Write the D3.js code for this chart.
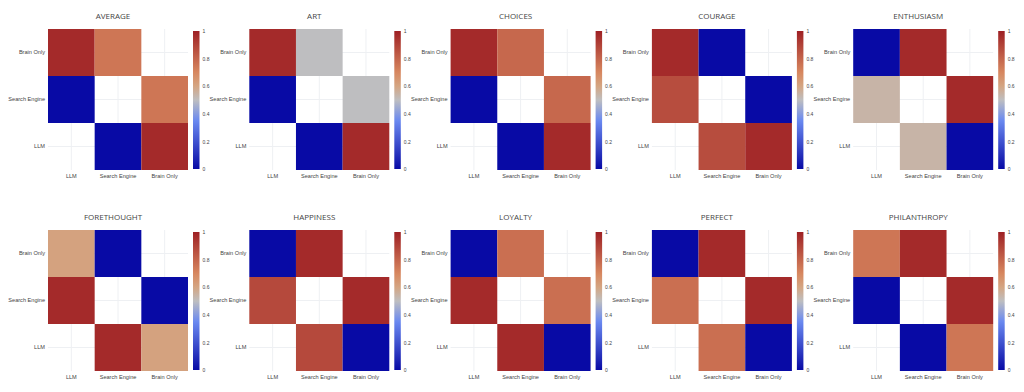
<!DOCTYPE html>
<html>
<head>
<meta charset="UTF-8">
<script src="https://d3js.org/d3.v7.min.js"></script>
<style>
  body { margin: 0; background: #fff; }
  svg { display: block; font-family: "Open Sans", Arial, sans-serif; }
  .tick text { fill: #444; }
</style>
</head>
<body>
<svg width="1024" height="392"></svg>
<script>
// categories and per-panel values (matrix is symmetric, diagonal empty)
const categories = ["LLM", "Search Engine", "Brain Only"];
const panelTitles = ["AVERAGE", "ART", "CHOICES", "COURAGE", "ENTHUSIASM",
                     "FORETHOUGHT", "HAPPINESS", "LOYALTY", "PERFECT", "PHILANTHROPY"];
const llmVsSearch   = [0,    0,    0,    0.87, 0.54, 0.97, 0.88, 0.97, 0.77, 0];
const llmVsBrain    = [0.97, 0.97, 0.97, 0.97, 0,    0.61, 0,    0,    0,    0.75];
const searchVsBrain = [0.75, 0.5,  0.79, 0,    0.97, 0,    0.97, 0.77, 0.97, 0.97];
const colorTicks = [0, 0.2, 0.4, 0.6, 0.8, 1];

// blue - grey - red colour stops (close to plotly RdBu reversed, as it shows here)
const rdbuStops = [0, 0.35, 0.5, 0.6, 0.7, 1];
const rdbuColors = ["rgb(8,10,165)", "rgb(106,137,240)", "rgb(190,190,192)",
                    "rgb(212,165,130)", "rgb(215,135,95)", "rgb(158,32,36)"];
const color = d3.scaleLinear().domain(rdbuStops).range(rdbuColors).interpolate(d3.interpolateRgb);

const svg = d3.select("svg");
const plotW = 140, plotH = 141;

const defs = svg.append("defs");
const grad = defs.append("linearGradient").attr("id", "cbar")
  .attr("x1", 0).attr("y1", 1).attr("x2", 0).attr("y2", 0);
grad.selectAll("stop").data(rdbuStops).join("stop")
  .attr("offset", d => d)
  .attr("stop-color", (d, i) => rdbuColors[i]);

function cellValue(p, a, b) {
  if (a === b) return null;
  const key = [a, b].sort().join("|");
  if (key === ["LLM", "Search Engine"].sort().join("|")) return llmVsSearch[p];
  if (key === ["Brain Only", "LLM"].sort().join("|")) return llmVsBrain[p];
  return searchVsBrain[p];
}

panelTitles.forEach((title, p) => {
  const col = p % 5, row = Math.floor(p / 5);
  const left = 48 + col * 201.3;
  const top = 29 + row * 201;

  const x = d3.scaleBand().domain(categories).range([0, plotW]);
  const y = d3.scaleBand().domain(categories).range([plotH, 0]);

  const g = svg.append("g").attr("transform", `translate(${left},${top})`);

  // faint gridlines
  g.append("g").selectAll("line").data(categories).join("line")
    .attr("x1", d => x(d) + x.bandwidth() / 2).attr("x2", d => x(d) + x.bandwidth() / 2)
    .attr("y1", 0).attr("y2", plotH)
    .attr("stroke", "#eef0f3").attr("stroke-width", 1);
  g.append("g").selectAll("line").data(categories).join("line")
    .attr("y1", d => y(d) + y.bandwidth() / 2).attr("y2", d => y(d) + y.bandwidth() / 2)
    .attr("x1", 0).attr("x2", plotW)
    .attr("stroke", "#eef0f3").attr("stroke-width", 1);

  const cells = [];
  categories.forEach(ry => categories.forEach(cx => {
    const v = cellValue(p, cx, ry);
    if (v !== null) cells.push({ cx, ry, v });
  }));

  g.append("g").selectAll("rect").data(cells).join("rect")
    .attr("x", d => x(d.cx)).attr("y", d => y(d.ry))
    .attr("width", x.bandwidth()).attr("height", y.bandwidth())
    .attr("fill", d => color(d.v));

  // axes
  const xa = g.append("g").attr("transform", `translate(0,${plotH})`)
    .call(d3.axisBottom(x).tickSize(0).tickPadding(4));
  const ya = g.append("g").call(d3.axisLeft(y).tickSize(0).tickPadding(3));
  [xa, ya].forEach(a => {
    a.select(".domain").remove();
    a.selectAll("text").attr("font-size", 5.6).attr("fill", "#444");
  });

  g.append("text")
    .attr("x", 65).attr("y", -10)
    .attr("text-anchor", "middle")
    .attr("font-size", 8).attr("fill", "#444")
    .text(title);

  // colorbar
  const cb = g.append("g").attr("transform", `translate(${plotW + 5},2)`);
  const cbH = 138;
  cb.append("rect").attr("width", 6.5).attr("height", cbH).attr("fill", "url(#cbar)");
  const cs = d3.scaleLinear().domain([0, 1]).range([cbH, 0]);
  const ca = cb.append("g").attr("transform", "translate(6.5,0)")
    .call(d3.axisRight(cs).tickValues(colorTicks).tickSize(0).tickPadding(3).tickFormat(d3.format("~g")));
  ca.select(".domain").remove();
  ca.selectAll("text").attr("font-size", 5).attr("fill", "#444");
});
</script>
</body>
</html>
